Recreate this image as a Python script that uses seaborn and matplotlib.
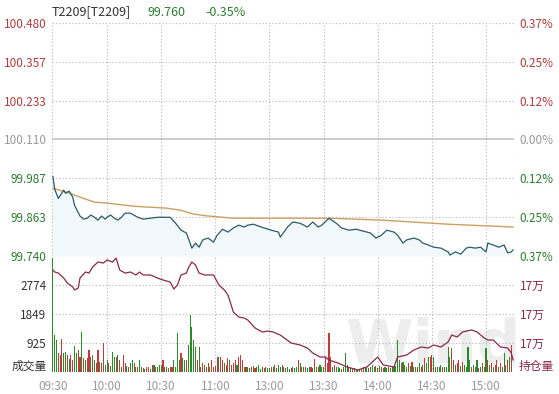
import numpy as np
import pandas as pd
import matplotlib
matplotlib.use("Agg")
import matplotlib.pyplot as plt
import seaborn as sns

# ---- data ----
prev_settle = 100.110
last_price = "99.760"
last_change = "-0.35%"

time_ticks = [0, 30, 60, 90, 120, 150, 180, 210, 240]
time_labels = ["09:30", "10:00", "10:30", "11:00", "13:00", "13:30", "14:00", "14:30", "15:00"]

price_ticks = [99.740, 99.863, 99.987, 100.110, 100.233, 100.357, 100.480]

price_min = [0, 1, 3, 6, 7, 9, 11, 12, 15, 17, 19, 21, 23, 25, 27, 29, 30, 32, 34, 36, 38, 40,
             43, 47, 50, 54, 58, 61, 65, 68, 71, 74, 77, 79, 81, 83, 86, 89, 91, 94, 97, 100, 103, 106, 108, 111,
             114, 117, 121, 125, 126, 130, 133, 137, 141, 144, 147, 149, 153, 157, 160, 164, 168, 172, 176, 179,
             182, 185, 189, 191, 194, 196, 200, 203, 205, 208, 211, 215, 219, 220, 223, 226, 229, 231, 234, 237,
             240, 241, 244, 247, 250, 252, 254, 255]
price_val = [99.993, 99.952, 99.923, 99.949, 99.939, 99.946, 99.927, 99.901,
             99.867, 99.857, 99.860, 99.870, 99.863, 99.854, 99.867, 99.857, 99.863, 99.870, 99.860, 99.854,
             99.863, 99.876,
             99.876, 99.863, 99.857, 99.860,
             99.863, 99.863, 99.863, 99.844, 99.822, 99.813, 99.765, 99.781, 99.768, 99.791,
             99.797, 99.784, 99.806, 99.825, 99.816, 99.829, 99.838, 99.832, 99.838, 99.841,
             99.835, 99.829, 99.822, 99.816, 99.800, 99.832, 99.848, 99.844, 99.832, 99.848,
             99.832, 99.838, 99.860, 99.844, 99.829, 99.822, 99.825, 99.819, 99.813, 99.797,
             99.806, 99.822, 99.816, 99.806, 99.781, 99.791, 99.797, 99.791, 99.781, 99.775,
             99.768, 99.765, 99.753, 99.743, 99.753, 99.746, 99.765, 99.768, 99.765, 99.768,
             99.753, 99.781, 99.775, 99.768, 99.775, 99.750, 99.753, 99.760]

vwap_min = [0, 8, 15, 23, 30, 45, 63, 71, 78, 86, 100, 126, 153, 182, 219, 255]
vwap_val = [99.955, 99.942, 99.927, 99.911, 99.908, 99.898, 99.892, 99.885, 99.873, 99.867,
            99.860, 99.860, 99.860, 99.854, 99.841, 99.832]

oi_min = [0, 1, 3, 6, 8, 11, 12, 14, 15, 18, 20, 22, 25, 28, 30, 33, 35, 37, 40, 43,
          46, 48, 50, 54, 58, 61, 65, 67, 69, 71, 74, 75, 77, 79, 81, 84, 86, 89, 92, 95,
          97, 100, 103, 106, 108, 112, 116, 119, 122, 126, 132, 137, 141, 144, 148, 151, 153, 158, 163, 169,
          174, 180, 183, 189, 191, 196, 200, 204, 208, 211, 215, 219, 221, 224, 227, 232, 235, 239, 241, 244,
          248, 252, 254, 255]
oi_val = [171007, 170979, 170965, 170896, 170827, 170772, 170731, 170758, 170896, 170979,
          170965, 171048, 171117, 171103, 171145, 171117, 171172, 171007, 170965, 170979,
          170938, 170979, 170938, 170938, 170896, 170869, 170841, 170745, 170800, 170938,
          170965, 171034, 171117, 171076, 170965, 170938, 170938, 170938, 170800, 170731,
          170662, 170427, 170358, 170345, 170317, 170207, 170152, 170165, 170152, 170110,
          170000, 169972, 169931, 169862, 169807, 169807, 169765, 169724, 169669, 169628,
          169669, 169807, 169697, 169669, 169807, 169834, 169903, 169945, 169931, 169972,
          169945, 170014, 170110, 170083, 170152, 170180, 170152, 170069, 170041, 170041,
          169945, 169931, 169862, 169765]

# one bar per minute, 09:30-11:30 and 13:00-15:15
volume = [3640, 1180, 1020, 600, 540, 1050, 600, 640, 540, 400, 540, 380, 830, 600, 700,
          480, 1280, 440, 380, 440, 700, 490, 540, 380, 300, 700, 330, 300, 925, 220,
          380, 280, 200, 640, 490, 490, 540, 380, 150, 540, 280, 200, 170, 300, 380,
          280, 150, 170, 380, 170, 120, 110, 150, 150, 100, 220, 230, 170, 170, 220,
          220, 380, 150, 170, 120, 170, 170, 380, 150, 1245, 380, 600, 440, 380, 380,
          860, 1820, 1440, 1020, 800, 380, 800, 170, 280, 220, 170, 280, 170, 380, 170,
          200, 490, 490, 490, 380, 280, 220, 440, 380, 220, 280, 380, 220, 490, 540,
          380, 170, 170, 150, 120, 170, 190, 120, 170, 220, 110, 150, 120, 170, 120,
          120, 150, 170, 220, 120, 220, 170, 220, 170, 120, 170, 100, 120, 150, 120,
          170, 380, 280, 150, 170, 150, 120, 150, 170, 120, 400, 150, 170, 220, 150,
          170, 490, 300, 1234, 490, 170, 220, 150, 170, 120, 100, 150, 600, 220, 150,
          120, 100, 120, 80, 60, 100, 80, 170, 150, 170, 120, 170, 220, 150, 190,
          120, 190, 150, 120, 170, 120, 170, 120, 170, 150, 200, 1020, 380, 280, 330,
          220, 170, 280, 200, 330, 150, 170, 170, 280, 150, 220, 440, 300, 490, 490,
          540, 490, 170, 170, 150, 220, 170, 170, 150, 808, 490, 750, 380, 220, 280,
          380, 200, 330, 220, 150, 808, 380, 150, 220, 170, 380, 120, 170, 280, 150,
          780, 380, 220, 280, 170, 220, 380, 170, 280, 150, 600, 220, 380, 490, 860]
vol_dir = ("gggrrrggrgrrggr" "rgrgrrgrgrrgrrg" "grgggrgrgrrgrgg" "rgrggrgrrgrgrgg"
           "grgrgrrggggrggr" "gggggrgrrgrrgrr" "rrgrrgrrgrrrgrr" "rgrggrgrgggrgrg"
           "grgrgggrgrggrgg" "grgrgrggrgrgrgg" "grrrrgrgggrgggr" "grgggrgrggrggrg"
           "grgrggrgrggggrg" "ggrgrggrgrgrggr" "rgrgggrggggrrgr" "rgrggggrgrgrgrg"
           "grgrgrrgrggrrgr")

vol_ticks = [925, 1849, 2774]
oi_ticks = [170000, 170400, 170800]

# ---- style ----
RED = "#b03c3c"
GREEN = "#2e7d32"
GRAY = "#9a9a9a"
DARK = "#333333"
OI_C = "#8a2848"
GRID = dict(color="#b4b4b4", lw=0.8, linestyle=(0, (1, 2)))

sns.set_theme(style="white")
plt.rcParams["font.family"] = ["Noto Sans CJK SC", "DejaVu Sans"]
FS = 8.5

fig = plt.figure(figsize=(5.59, 3.94), dpi=100)
W, H = 559, 394
ax_p = fig.add_axes([52 / W, 1 - 256 / H, 462 / W, 233 / H])
ax_v = fig.add_axes([52 / W, 1 - 372 / H, 462 / W, 116 / H], sharex=ax_p)
for ax in (ax_p, ax_v):
    ax.set_facecolor("none")
    for s in ax.spines.values():
        s.set_visible(False)

# watermark
fig.text(345 / W, 1 - 376 / H, "Wind", fontsize=44, fontweight="bold", color="#ededed",
         family="DejaVu Sans", va="bottom", zorder=-1)

# ---- price panel ----
price_df = pd.DataFrame({"minute": price_min, "price": price_val})
vwap_df = pd.DataFrame({"minute": vwap_min, "price": vwap_val})
ax_p.fill_between(price_df["minute"], price_df["price"], price_ticks[0],
                  color="#f0f8fb", lw=0, zorder=1)
sns.lineplot(data=vwap_df, x="minute", y="price", ax=ax_p, color="#c9a062",
             lw=1.0, estimator=None, zorder=3)
sns.lineplot(data=price_df, x="minute", y="price", ax=ax_p, color="#2d5a66",
             lw=0.9, estimator=None, zorder=4)
ax_p.set_xlim(-0.5, 255.5)
ax_p.set_ylim(price_ticks[0], price_ticks[-1])

for t in price_ticks:
    if abs(t - prev_settle) < 1e-6:
        ax_p.axhline(t, color="#cccccc", lw=1.4, zorder=0)
    else:
        ax_p.axhline(t, zorder=0, **GRID)
for x in time_ticks[1:] + [255.5]:
    ax_p.axvline(x, zorder=0, **GRID)
    ax_v.axvline(x, zorder=0, **GRID)
ax_p.axvline(-0.5, zorder=0, **GRID)
ax_v.axvline(-0.5, zorder=0, **GRID)


def side_color(v):
    if abs(v - prev_settle) < 1e-6:
        return GRAY
    return RED if v > prev_settle else GREEN


ax_p.set_yticks(price_ticks)
ax_p.set_yticklabels([f"{t:.3f}" for t in price_ticks], fontsize=FS)
for lab, t in zip(ax_p.get_yticklabels(), price_ticks):
    lab.set_color(side_color(t))
ax_p.tick_params(axis="y", length=0, pad=4)
ax_p.tick_params(axis="x", length=0, labelbottom=False)
ax_p.set_xlabel("")
ax_p.set_ylabel("")

ax_pr = ax_p.twinx()
ax_pr.set_ylim(ax_p.get_ylim())
ax_pr.set_yticks(price_ticks)
ax_pr.set_yticklabels([f"{abs(t - prev_settle) / prev_settle * 100:.2f}%" for t in price_ticks],
                      fontsize=FS)
for lab, t in zip(ax_pr.get_yticklabels(), price_ticks):
    lab.set_color(side_color(t))
ax_pr.tick_params(axis="y", length=0, pad=4)
for s in ax_pr.spines.values():
    s.set_visible(False)

# title line
ty = 1 - 12 / H
fig.text(52 / W, ty, "T2209[T2209]", color=DARK, fontsize=9, va="center")
fig.text(147 / W, ty, last_price, color=GREEN, fontsize=9, va="center")
fig.text(205 / W, ty, last_change, color=GREEN, fontsize=9, va="center")

# ---- volume / open interest panel ----
minutes = np.arange(len(volume))
bar_colors = ["#c0393b" if d == "r" else "#2a8a2a" for d in vol_dir]
ax_v.bar(minutes, volume, width=0.6, color=bar_colors, lw=0, zorder=2)
ax_v.set_ylim(0, 3699)
for t in vol_ticks:
    ax_v.axhline(t, zorder=0, **GRID)
ax_v.set_yticks(vol_ticks)
ax_v.set_yticklabels([str(t) for t in vol_ticks], fontsize=FS, color=DARK)
ax_v.tick_params(axis="y", length=0, pad=4)
ax_v.text(-0.011, 0.052, "成交量", transform=ax_v.transAxes, ha="right", va="center",
          fontsize=FS, color=DARK)

ax_v.set_xticks(time_ticks)
ax_v.set_xticklabels(time_labels, fontsize=FS, color=GRAY)
ax_v.tick_params(axis="x", length=0, pad=6)

ax_oi = ax_v.twinx()
ax_oi.set_facecolor("none")
oi_df = pd.DataFrame({"minute": oi_min, "oi": oi_val})
sns.lineplot(data=oi_df, x="minute", y="oi", ax=ax_oi, color=OI_C, lw=0.9,
             estimator=None, zorder=5)
ax_oi.set_ylim(169600, 171200)
ax_oi.set_yticks(oi_ticks)
ax_oi.set_yticklabels([f"{t / 10000:.0f}万" for t in oi_ticks], fontsize=FS, color=OI_C)
ax_oi.tick_params(axis="y", length=0, pad=4)
ax_oi.set_ylabel("")
for s in ax_oi.spines.values():
    s.set_visible(False)
ax_v.text(1.011, 0.05, "持仓量", transform=ax_v.transAxes, ha="left", va="center",
          fontsize=FS, color=OI_C)
ax_v.set_xlim(-0.5, 255.5)

fig.savefig("out.png", dpi=100)
